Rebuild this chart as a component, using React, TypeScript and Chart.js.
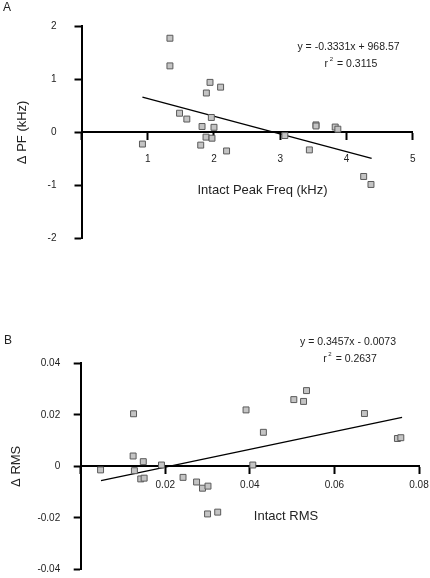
import React, { useEffect, useRef } from "react";
import { Chart, registerables } from "chart.js";

Chart.register(...registerables);

// ---------- Panel A data ----------
const A_X = [1.335, 1.335, 1.94, 2.1, 1.885, 1.48, 1.59, 1.96, 1.82, 2.0, 1.88, 1.97, 1.8, 2.19, 0.92, 3.07, 3.54, 3.54, 3.83, 3.87, 3.44, 4.26, 4.37];
const A_Y = [1.77, 1.25, 0.94, 0.85, 0.74, 0.36, 0.25, 0.28, 0.11, 0.095, -0.09, -0.11, -0.24, -0.35, -0.22, -0.06, 0.14, 0.12, 0.1, 0.06, -0.33, -0.83, -0.98];
const A_FIT_X = [0.92, 4.38];
const A_FIT_Y = [0.662, -0.49];
const A_X_TICKS = [0, 1, 2, 3, 4, 5];
const A_Y_TICKS = [-2, -1, 0, 1, 2];

// ---------- Panel B data ----------
const B_X = [0.0047, 0.0125, 0.0124, 0.0127, 0.0148, 0.0142, 0.015, 0.0191, 0.0242, 0.0274, 0.0288, 0.0301, 0.03, 0.0324, 0.0391, 0.0432, 0.0407, 0.0504, 0.0527, 0.0534, 0.0671, 0.0749, 0.0757];
const B_Y = [-0.0014, 0.0204, 0.004, -0.0017, 0.0018, -0.0049, -0.0046, 0.0005, -0.0043, -0.0061, -0.0085, -0.0077, -0.0185, -0.0178, 0.0219, 0.0132, 0.0005, 0.0259, 0.0252, 0.0294, 0.0205, 0.0108, 0.0111];
const B_FIT_X = [0.0048, 0.076];
const B_FIT_Y = [-0.0056, 0.019];
const B_X_TICKS = [0, 0.02, 0.04, 0.06, 0.08];
const B_Y_TICKS = [-0.04, -0.02, 0, 0.02, 0.04];

const FONT = "'Liberation Sans', Arial, Helvetica, sans-serif";
const TXT = "#222";

type PanelCfg = {
  xs: number[];
  ys: number[];
  fx: number[];
  fy: number[];
  xTicks: number[];
  yTicks: number[];
  yTitle: string;
  xTitle: string;
  letter: string;
  eq1: string;
  r2: string;
  // layout
  axisLeft: number;
  padding: { top: number; right: number; bottom: number; left: number };
  yTickPad: number;
  xTickPad: number;
  yTitlePad: number;
  letterPos: [number, number];
  eq1Pos: [number, number];
  r2Pos: [number, number];
  xTitlePos: [number, number];
  fmt: (v: number) => string;
};

function makeChart(canvas: HTMLCanvasElement, c: PanelCfg) {
  const xmin = c.xTicks[0];
  const xmax = c.xTicks[c.xTicks.length - 1];
  const ymin = c.yTicks[0];
  const ymax = c.yTicks[c.yTicks.length - 1];
  const xStep = c.xTicks[1] - c.xTicks[0];
  const yStep = c.yTicks[1] - c.yTicks[0];

  const textPlugin = {
    id: "panelText" + c.letter,
    afterDraw(chart: any) {
      const ctx = chart.ctx as CanvasRenderingContext2D;
      ctx.save();
      ctx.fillStyle = TXT;
      ctx.textBaseline = "middle";
      // panel letter
      ctx.font = `12px ${FONT}`;
      ctx.textAlign = "left";
      ctx.fillText(c.letter, c.letterPos[0], c.letterPos[1]);
      // equation
      ctx.font = `10.5px ${FONT}`;
      ctx.textAlign = "center";
      ctx.fillText(c.eq1, c.eq1Pos[0], c.eq1Pos[1]);
      // r^2 line
      const partA = "r";
      const partB = " = " + c.r2;
      ctx.font = `10.5px ${FONT}`;
      const wA = ctx.measureText(partA).width;
      const wB = ctx.measureText(partB).width;
      ctx.font = `6px ${FONT}`;
      const wS = ctx.measureText(" 2").width + 1;
      const total = wA + wS + wB;
      let x0 = c.r2Pos[0] - total / 2;
      ctx.textAlign = "left";
      ctx.font = `10.5px ${FONT}`;
      ctx.fillText(partA, x0, c.r2Pos[1]);
      ctx.font = `6px ${FONT}`;
      ctx.fillText(" 2", x0 + wA, c.r2Pos[1] - 5);
      ctx.font = `10.5px ${FONT}`;
      ctx.fillText(partB, x0 + wA + wS, c.r2Pos[1]);
      // x axis title
      ctx.font = `13px ${FONT}`;
      ctx.textAlign = "center";
      ctx.fillText(c.xTitle, c.xTitlePos[0], c.xTitlePos[1]);
      ctx.restore();
    },
  };

  return new Chart(canvas, {
    type: "scatter",
    data: {
      datasets: [
        {
          label: "data",
          data: c.xs.map((x, i) => ({ x, y: c.ys[i] })),
          pointStyle: "rect",
          pointRadius: 4.2,
          backgroundColor: "#c4c4c4",
          borderColor: "#5a5a5a",
          borderWidth: 1,
          showLine: false,
        },
        {
          label: "fit",
          data: c.fx.map((x, i) => ({ x, y: c.fy[i] })),
          showLine: true,
          borderColor: "#000",
          borderWidth: 1.3,
          pointRadius: 0,
          fill: false,
        },
      ],
    },
    options: {
      responsive: false,
      animation: false,
      devicePixelRatio: 1,
      layout: { padding: c.padding },
      plugins: {
        legend: { display: false },
        tooltip: { enabled: false },
      },
      scales: {
        x: {
          type: "linear",
          min: xmin,
          max: xmax,
          position: { y: 0 } as any,
          afterFit: (s: any) => {
            s.height = 0;
            s.paddingLeft = 0;
            s.paddingRight = 0;
          },
          ticks: {
            stepSize: xStep,
            color: TXT,
            font: { family: FONT, size: 10 },
            padding: c.xTickPad,
            maxRotation: 0,
            autoSkip: false,
            callback: (v: any) => (Math.abs(Number(v)) < 1e-12 ? "" : c.fmt(Number(v))),
          },
          grid: {
            drawOnChartArea: false,
            drawTicks: true,
            tickLength: 7,
            tickColor: "#000",
            tickWidth: 2,
            color: "#000",
          },
          border: { display: true, color: "#000", width: 2 },
        },
        y: {
          type: "linear",
          min: ymin,
          max: ymax,
          position: "left",
          afterFit: (s: any) => {
            s.width = c.axisLeft;
            s.paddingTop = 0;
            s.paddingBottom = 0;
          },
          ticks: {
            stepSize: yStep,
            color: TXT,
            font: { family: FONT, size: 10 },
            padding: c.yTickPad,
            callback: (v: any) => c.fmt(Number(v)),
          },
          grid: {
            drawOnChartArea: false,
            drawTicks: true,
            tickLength: 7,
            tickColor: "#000",
            tickWidth: 2,
            color: "#000",
          },
          border: { display: true, color: "#000", width: 2 },
          title: {
            display: true,
            text: c.yTitle,
            color: TXT,
            font: { family: FONT, size: 13 },
            padding: { top: c.yTitlePad, bottom: 0 },
          },
        },
      },
    },
    plugins: [textPlugin],
  });
}

function fmtA(v: number) {
  return String(Math.round(v));
}
function fmtB(v: number) {
  const r = Math.round(v * 100) / 100;
  if (r === 0) return "0";
  return r.toFixed(2);
}

const CFG_A: PanelCfg = {
  xs: A_X,
  ys: A_Y,
  fx: A_FIT_X,
  fy: A_FIT_Y,
  xTicks: A_X_TICKS,
  yTicks: A_Y_TICKS,
  yTitle: "Δ PF (kHz)",
  xTitle: "Intact Peak Freq (kHz)",
  letter: "A",
  eq1: "y = -0.3331x + 968.57",
  r2: "0.3115",
  axisLeft: 81.5,
  padding: { top: 26, right: 17.3, bottom: 50.3, left: 0 },
  yTickPad: 18,
  xTickPad: 14,
  yTitlePad: 15,
  letterPos: [3, 7.5],
  eq1Pos: [348.5, 46.7],
  r2Pos: [351, 64],
  xTitlePos: [262.5, 190],
  fmt: fmtA,
};

const CFG_B: PanelCfg = {
  xs: B_X,
  ys: B_Y,
  fx: B_FIT_X,
  fy: B_FIT_Y,
  xTicks: B_X_TICKS,
  yTicks: B_Y_TICKS,
  yTitle: "Δ RMS",
  xTitle: "Intact RMS",
  letter: "B",
  eq1: "y = 0.3457x - 0.0073",
  r2: "0.2637",
  axisLeft: 80.7,
  padding: { top: 74.3, right: 11, bottom: 8.7, left: 0 },
  yTickPad: 13.5,
  xTickPad: 6,
  yTitlePad: 9,
  letterPos: [4, 51.3],
  eq1Pos: [348, 53.3],
  r2Pos: [350, 70],
  xTitlePos: [286, 227.7],
  fmt: fmtB,
};

function Panel({ cfg, top }: { cfg: PanelCfg; top: number }) {
  const ref = useRef<HTMLCanvasElement | null>(null);
  useEffect(() => {
    if (!ref.current) return;
    const chart = makeChart(ref.current, cfg);
    return () => chart.destroy();
  }, [cfg]);
  return (
    <canvas
      ref={ref}
      width={430}
      height={289}
      style={{ position: "absolute", left: 0, top, width: 430, height: 289, display: "block" }}
    />
  );
}

export default function App() {
  return (
    <div style={{ position: "absolute", left: 0, top: 0, width: 430, height: 578, background: "#fff", overflow: "hidden" }}>
      <Panel cfg={CFG_A} top={0} />
      <Panel cfg={CFG_B} top={289} />
    </div>
  );
}
